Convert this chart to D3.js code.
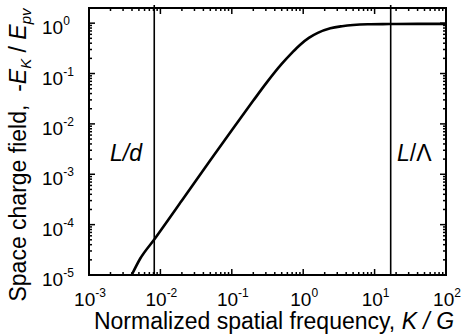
<!DOCTYPE html>
<html><head><meta charset="utf-8">
<script src="https://cdn.jsdelivr.net/npm/d3@7"></script>
<style>body{margin:0;background:#fff}svg{display:block}text{font-family:"Liberation Sans",Arial,Helvetica,sans-serif;fill:#000;white-space:pre}</style>
</head><body><svg id="c" width="462" height="336"></svg>
<script>
// Data
const curveX = [0.00396, 0.0052, 0.0084, 0.02, 0.05, 0.1, 0.2, 0.3, 0.5, 0.7, 0.9, 1.2, 1.6, 2.4, 3.5, 5, 8, 16, 40, 100];
const curveY = [1e-5, 2.1e-5, 5.3e-5, 3.0e-4, 1.9e-3, 7.5e-3, 0.029, 0.063, 0.155, 0.26, 0.37, 0.51, 0.64, 0.79, 0.87, 0.92, 0.95, 0.96, 0.97, 0.97];
const markerX = [0.0082, 16.8];
const markerLabels = [["L", "/", "d"], ["L", "/", "Λ"]];
const xTickExp = [-3, -2, -1, 0, 1, 2];
const yTickExp = [0, -1, -2, -3, -4, -5];
const xDomain = [1e-3, 1e2];
const yDomain = [1e-5, 2];

const svg = d3.select("#c");
const L = 89, R = 446, T = 8, B = 275;
const x = d3.scaleLog().domain(xDomain).range([L, R]);
const y = d3.scaleLog().domain(yDomain).range([B, T]);

const minorX = [], minorY = [];
for (let e = -3; e < 2; e++) for (let k = 2; k < 10; k++) minorX.push(k * Math.pow(10, e));
for (let e = -5; e < 1; e++) for (let k = 2; k < 10; k++) { const v = k * Math.pow(10, e); if (v <= 2) minorY.push(v); }
const majX = xTickExp.map(e => Math.pow(10, e));
const majY = yTickExp.map(e => Math.pow(10, e));

const g = svg.append("g");
function tickLines(vals, len) {
  vals.forEach(v => {
    const px = x(v);
    g.append("line").attr("x1", px).attr("x2", px).attr("y1", B).attr("y2", B - len).attr("stroke", "#000").attr("stroke-width", 1.5);
    g.append("line").attr("x1", px).attr("x2", px).attr("y1", T).attr("y2", T + len).attr("stroke", "#000").attr("stroke-width", 1.5);
  });
}
function tickLinesY(vals, len) {
  vals.forEach(v => {
    const py = y(v);
    g.append("line").attr("y1", py).attr("y2", py).attr("x1", L).attr("x2", L + len).attr("stroke", "#000").attr("stroke-width", 1.5);
    g.append("line").attr("y1", py).attr("y2", py).attr("x1", R).attr("x2", R - len).attr("stroke", "#000").attr("stroke-width", 1.5);
  });
}
tickLines(minorX, 3); tickLines(majX, 6);
tickLinesY(minorY, 3); tickLinesY(majY, 6);

g.append("rect").attr("x", L).attr("y", T).attr("width", R - L).attr("height", B - T)
  .attr("fill", "none").attr("stroke", "#000").attr("stroke-width", 2);

markerX.forEach(v => {
  g.append("line").attr("x1", x(v)).attr("x2", x(v)).attr("y1", T - 3).attr("y2", B)
    .attr("stroke", "#000").attr("stroke-width", 1.6);
});
const labelPos = [[110, 161], [397, 161]];
markerLabels.forEach((parts, i) => {
  const t = g.append("text").attr("x", labelPos[i][0]).attr("y", labelPos[i][1]).attr("font-size", 23);
  t.append("tspan").attr("font-style", "italic").text(parts[0]);
  t.append("tspan").attr("font-style", i === 0 ? "italic" : "normal").text(parts[1]);
  t.append("tspan").attr("font-style", i === 0 ? "italic" : "normal").text(parts[2]);
});

const pts = curveX.map((v, i) => [v, curveY[i]]);
svg.append("clipPath").attr("id", "pc").append("rect").attr("x", L).attr("y", T).attr("width", R - L).attr("height", B - T);
g.append("path").datum(pts).attr("clip-path", "url(#pc)")
  .attr("d", d3.line().x(d => x(d[0])).y(d => y(d[1])).curve(d3.curveMonotoneX))
  .attr("fill", "none").attr("stroke", "#000").attr("stroke-width", 2.6);

xTickExp.forEach(e => {
  const t = g.append("text").attr("x", x(Math.pow(10, e)) + 1).attr("y", 306).attr("text-anchor", "middle").attr("font-size", 19);
  t.append("tspan").text("10");
  t.append("tspan").attr("dy", -9).attr("font-size", 12).text(e);
});
yTickExp.forEach(e => {
  const t = g.append("text").attr("x", 42).attr("y", y(Math.pow(10, e)) + 11).attr("font-size", 19);
  t.append("tspan").text("10");
  t.append("tspan").attr("dy", -9).attr("font-size", 12).text(e);
});

const xt = g.append("text").attr("x", 274).attr("y", 329).attr("text-anchor", "middle").attr("font-size", 23);
xt.append("tspan").text("Normalized spatial frequency, ");
xt.append("tspan").attr("font-style", "italic").text("K / G");

const yt = g.append("text").attr("transform", "translate(26,155) rotate(-90)").attr("text-anchor", "middle").attr("font-size", 23);
yt.append("tspan").text("Space charge field,  -");
yt.append("tspan").attr("font-style", "italic").text("E");
yt.append("tspan").attr("font-style", "italic").attr("font-size", 15).attr("dy", 5).text("K");
yt.append("tspan").attr("dy", -5).text(" / ");
yt.append("tspan").attr("font-style", "italic").text("E");
yt.append("tspan").attr("font-style", "italic").attr("font-size", 15).attr("dy", 5).text("pv");
</script></body></html>
